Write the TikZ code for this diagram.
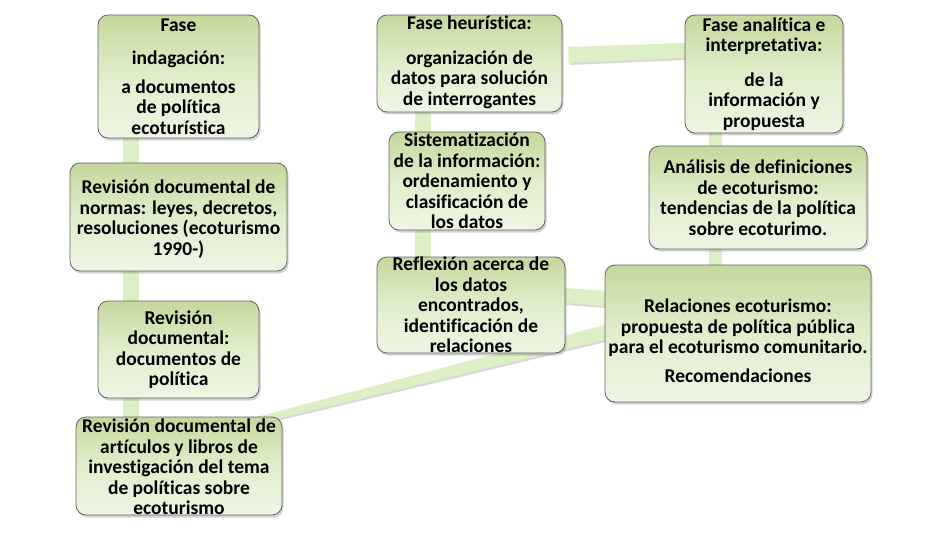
\documentclass[tikz,border=0pt]{standalone}
\usepackage{fontspec}
\setmainfont{Carlito}[Ligatures=NoCommon]
\usetikzlibrary{shadows,calc}
\definecolor{boxtop}{RGB}{196,216,156}
\definecolor{boxmid}{RGB}{224,238,204}
\definecolor{boxbot}{RGB}{238,246,228}
\definecolor{bandc}{RGB}{221,239,196}
\definecolor{edgec}{RGB}{100,100,100}
\pgfdeclarelayer{back}
\pgfdeclarelayer{bg}
\pgfsetlayers{back,bg,main}
\begin{document}
\begin{tikzpicture}[x=1pt,y=1pt,
  box/.style={draw=edgec, line width=0.8pt, rounded corners=10pt,
    top color=boxtop, bottom color=boxbot, middle color=boxmid,
    drop shadow={shadow xshift=1.5pt, shadow yshift=-2.5pt, opacity=0.35},
    inner sep=0pt},
  txt/.style={align=center, inner sep=0pt,
    font=\bfseries\fontsize{19.5}{20.5}\selectfont},
  vband/.style={draw=bandc, line cap=butt},
  hband/.style={fill=bandc, drop shadow={shadow xshift=1pt, shadow yshift=-2pt, opacity=0.3}}
]
\begin{pgfonlayer}{back}
\fill[white] (0,0) rectangle (947,542);
\end{pgfonlayer}
\useasboundingbox (0,0) rectangle (947,542);

% boxes (y measured from the top: 542 - y)
\node[box, minimum width=161pt, minimum height=123pt] (b1) at (178.5,{542-76.5}) {};
\node[box, minimum width=217pt, minimum height=108pt] (b2) at (178.5,{542-217}) {};
\node[box, minimum width=161pt, minimum height=97pt]  (b3) at (178.5,{542-349.5}) {};
\node[box, minimum width=206pt, minimum height=98pt]  (b4) at (179,{542-466}) {};
\node[box, minimum width=185pt, minimum height=97pt]  (b5) at (469.5,{542-63.5}) {};
\node[box, minimum width=156pt, minimum height=98pt]  (b6) at (467,{542-181}) {};
\node[box, minimum width=188pt, minimum height=96pt]  (b7) at (471,{542-305}) {};
\node[box, minimum width=158pt, minimum height=118pt] (b8) at (764,{542-74}) {};
\node[box, minimum width=218pt, minimum height=103pt] (b9) at (758,{542-197.5}) {};
\node[box, minimum width=266pt, minimum height=137pt] (b10) at (738,{542-333.5}) {};

% texts
\node[txt] (t1) at (b1.center) {Fase\\[13pt]indagación:\\[8pt]a documentos\\de política\\ecoturística};
\node[txt] (t2) at ([yshift=-2pt]b2.center) {Revisión documental de\\normas: leyes, decretos,\\resoluciones (ecoturismo\\1990-)};
\node[txt] (t3) at (b3.center) {Revisión\\documental:\\documentos de\\política};
\node[txt] (t4) at ([yshift=-1pt]b4.center) {Revisión documental de\\artículos y libros de\\investigación del tema\\de políticas sobre\\ecoturismo};
\node[txt] (t5) at ([yshift=1pt]b5.center) {Fase heurística:\\[14pt]organización de\\datos para solución\\de interrogantes};
\node[txt] (t6) at (b6.center) {Sistematización\\de la información:\\ordenamiento y\\clasificación de\\los datos};
\node[txt] (t7) at (b7.center) {Reflexión acerca de\\los datos\\encontrados,\\identificación de\\relaciones};
\node[txt] (t8) at (b8.center) {Fase analítica e\\interpretativa:\\[14pt]de la\\información y\\propuesta};
\node[txt] (t9) at (b9.center) {Análisis de definiciones\\de ecoturismo:\\tendencias de la política\\sobre ecoturimo.};
\node[txt] (t10) at ([yshift=-7pt]b10.center) {Relaciones ecoturismo:\\propuesta de política pública\\para el ecoturismo comunitario.\\[8pt]Recomendaciones};

% connectors
\begin{pgfonlayer}{bg}
\draw[vband, line width=16pt] ([xshift=33pt]b1.south west) -- ([xshift=33pt]b1.south west |- b4.north);
\draw[vband, line width=16pt] ([xshift=46pt]b5.south west) -- ([xshift=46pt]b5.south west |- b7.north);
\draw[vband, line width=13pt] ([xshift=31pt]b8.south west) -- ([xshift=31pt]b8.south west |- b10.north);
\path[hband] ([xshift=6pt,yshift=16.5pt]b5.east) -- ([yshift=31pt]b8.west)
   -- ([yshift=16pt]b8.west) -- ([xshift=6pt,yshift=0.5pt]b5.east) -- cycle;
\path[hband] ([yshift=17pt]b7.east) -- ([yshift=42.5pt]b10.west)
   -- ([yshift=27.5pt]b10.west) -- ([yshift=2pt]b7.east) -- cycle;
\path[hband] ([xshift=51pt,yshift=42pt]b4.center) -- ([yshift=8.5pt]b10.west)
   -- ([yshift=-6.5pt]b10.west) -- ([xshift=51pt,yshift=36pt]b4.center) -- cycle;
\end{pgfonlayer}
\end{tikzpicture}
\end{document}
